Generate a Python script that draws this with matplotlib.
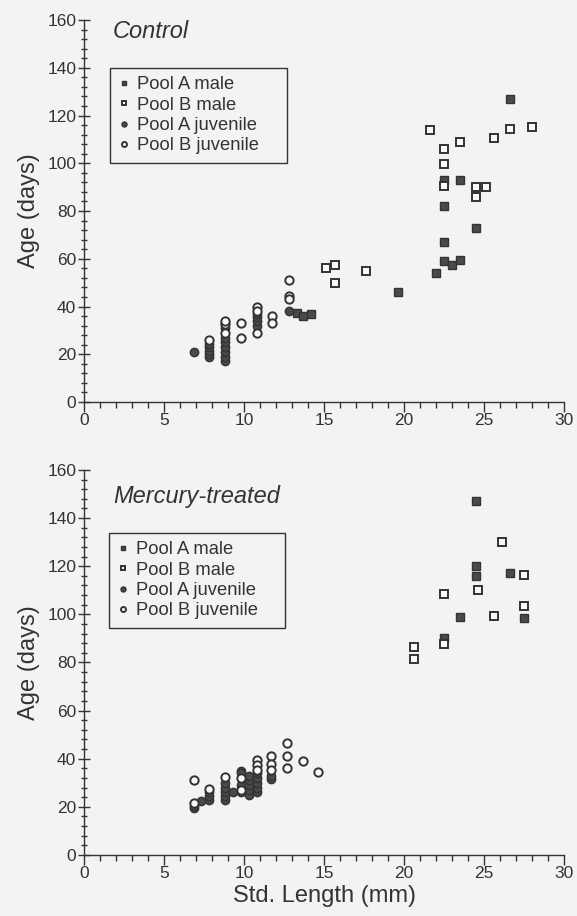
import matplotlib
matplotlib.use("Agg")
import matplotlib.pyplot as plt
from matplotlib.ticker import MultipleLocator

plt.rcParams['font.family'] = ['Liberation Sans', 'DejaVu Sans']

# ---------------- Control panel data ----------------
ctrl_a_male_x = [26.6, 22.5, 23.5, 22.5, 24.5, 22.5, 22.5, 23.0, 23.5, 22.0, 19.6, 13.3, 13.7, 14.2]
ctrl_a_male_y = [127, 93, 93, 82, 73, 67, 59, 57.5, 59.5, 54, 46, 37.5, 36, 37]
ctrl_b_male_x = [21.6, 26.6, 28.0, 25.6, 23.5, 22.5, 22.5, 22.5, 24.5, 25.1, 24.5, 15.1, 15.7, 15.7, 17.6]
ctrl_b_male_y = [114, 114.5, 115, 110.5, 109, 106, 99.5, 90.5, 90, 90, 86, 56, 57.5, 50, 55]
ctrl_a_juv_x = [6.9, 7.8, 7.8, 7.8, 7.8, 7.8, 8.8, 8.8, 8.8, 8.8, 8.8, 8.8, 8.8,
                10.8, 10.8, 10.8, 10.8, 12.8]
ctrl_a_juv_y = [21, 19, 20, 21.5, 23, 24.5, 17, 19, 21, 23, 25, 27, 31,
                32, 34, 35.5, 37, 38]
ctrl_b_juv_x = [7.8, 8.8, 8.8, 8.8, 9.8, 9.8, 10.8, 10.8, 10.8, 11.75, 11.75, 12.8, 12.8, 12.8]
ctrl_b_juv_y = [26, 29, 32.5, 34, 33, 27, 40, 38, 29, 36, 33, 51, 44.5, 43]

# ---------------- Mercury-treated panel data ----------------
hg_a_male_x = [24.5, 24.5, 24.5, 26.6, 23.5, 27.5, 22.5]
hg_a_male_y = [147, 120, 116, 117, 99, 98.5, 90]
hg_b_male_x = [26.1, 27.5, 22.5, 24.6, 27.5, 25.6, 22.5, 20.6, 20.6]
hg_b_male_y = [130, 116.5, 108.5, 110, 103.5, 99.5, 87.5, 86.5, 81.5]
hg_a_juv_x = [6.9, 6.9, 7.3, 7.8, 7.8, 7.8, 8.8, 8.8, 8.8, 8.8, 8.8, 9.3,
              9.8, 9.8, 9.8, 9.8, 10.3, 10.3, 10.3, 10.3, 10.3,
              10.8, 10.8, 10.8, 10.8, 10.8, 11.7, 11.7]
hg_a_juv_y = [19.5, 20.5, 22.5, 23, 24.5, 26, 23, 24.5, 26, 28, 30, 26,
              35, 34, 29, 26, 25, 27, 29, 31, 33,
              26, 28, 30, 32, 34, 31.5, 33]
hg_b_juv_x = [6.9, 6.9, 7.8, 8.8, 9.8, 9.8, 10.8, 10.8, 10.8, 11.7, 11.7, 11.7,
              12.7, 12.7, 12.7, 13.7, 14.6]
hg_b_juv_y = [31, 21.5, 27.5, 32.5, 32, 27, 39.5, 37.5, 35.5, 41, 38, 35.5,
              46.5, 41, 36, 39, 34.5]

legend_labels = ['Pool A male', 'Pool B male', 'Pool A juvenile', 'Pool B juvenile']
x_ticks = [0, 5, 10, 15, 20, 25, 30]
y_ticks = [0, 20, 40, 60, 80, 100, 120, 140, 160]

BG = '#f3f3f1'
INK = '#333333'
FILL = '#4a4a4a'

fig = plt.figure(figsize=(5.77, 9.16), dpi=100, facecolor=BG)
ax1 = fig.add_axes([0.1456, 0.5611, 0.832, 0.4170])
ax2 = fig.add_axes([0.1456, 0.0666, 0.832, 0.4203])


def draw(ax, am, bm, aj, bj, title, ty, leg_bbox):
    ax.set_facecolor(BG)
    ms = 6.0
    h1, = ax.plot(am[0], am[1], 's', ms=ms, mfc=FILL, mec=INK, mew=1.0, ls='none')
    h3, = ax.plot(aj[0], aj[1], 'o', ms=ms, mfc=FILL, mec=INK, mew=1.0, ls='none')
    h2, = ax.plot(bm[0], bm[1], 's', ms=ms, mfc='#fafaf8', mec=INK, mew=1.4, ls='none')
    h4, = ax.plot(bj[0], bj[1], 'o', ms=ms, mfc='#fafaf8', mec=INK, mew=1.4, ls='none')
    ax.set_xlim(0, 30)
    ax.set_ylim(0, 160)
    for s in ['top', 'right']:
        ax.spines[s].set_visible(False)
    for s in ['left', 'bottom']:
        ax.spines[s].set_color(INK)
        ax.spines[s].set_linewidth(1.0)
    ax.set_xticks(x_ticks)
    ax.set_yticks(y_ticks)
    ax.xaxis.set_minor_locator(MultipleLocator(1))
    ax.yaxis.set_minor_locator(MultipleLocator(4))
    ax.tick_params(axis='x', which='major', direction='out', length=7, width=1.0,
                   color=INK, labelcolor=INK, labelsize=12.5, pad=1)
    ax.tick_params(axis='x', which='minor', direction='out', length=4, width=1.0, color=INK)
    ax.tick_params(axis='y', which='major', direction='inout', length=9, width=1.0,
                   color=INK, labelcolor=INK, labelsize=12.5, pad=1)
    ax.tick_params(axis='y', which='minor', direction='inout', length=5, width=1.0, color=INK)
    ax.set_ylabel('Age (days)', fontsize=17, color=INK, labelpad=5)
    ax.text(0.06, ty, title, transform=ax.transAxes, fontsize=17, style='italic',
            color=INK, ha='left', va='center')
    leg = ax.legend([h1, h2, h3, h4], legend_labels, loc='upper left',
                    bbox_to_anchor=leg_bbox, mode='expand', borderaxespad=0, fontsize=13.2,
                    markerscale=0.6, handlelength=0.6, handletextpad=0.45,
                    labelspacing=0.18, borderpad=0.45, fancybox=False,
                    frameon=True, labelcolor=INK)
    leg.get_frame().set_edgecolor(INK)
    leg.get_frame().set_linewidth(1.0)
    leg.get_frame().set_facecolor(BG)
    leg.get_frame().set_alpha(1)


draw(ax1, (ctrl_a_male_x, ctrl_a_male_y), (ctrl_b_male_x, ctrl_b_male_y),
     (ctrl_a_juv_x, ctrl_a_juv_y), (ctrl_b_juv_x, ctrl_b_juv_y),
     'Control', 0.969, (0.054, 0.5, 0.369, 0.374))
draw(ax2, (hg_a_male_x, hg_a_male_y), (hg_b_male_x, hg_b_male_y),
     (hg_a_juv_x, hg_a_juv_y), (hg_b_juv_x, hg_b_juv_y),
     'Mercury-treated', 0.932, (0.052, 0.4, 0.366, 0.436))
ax2.set_xlabel('Std. Length (mm)', fontsize=17, color=INK, labelpad=3)

fig.savefig('out.png', dpi=100, facecolor=BG)
